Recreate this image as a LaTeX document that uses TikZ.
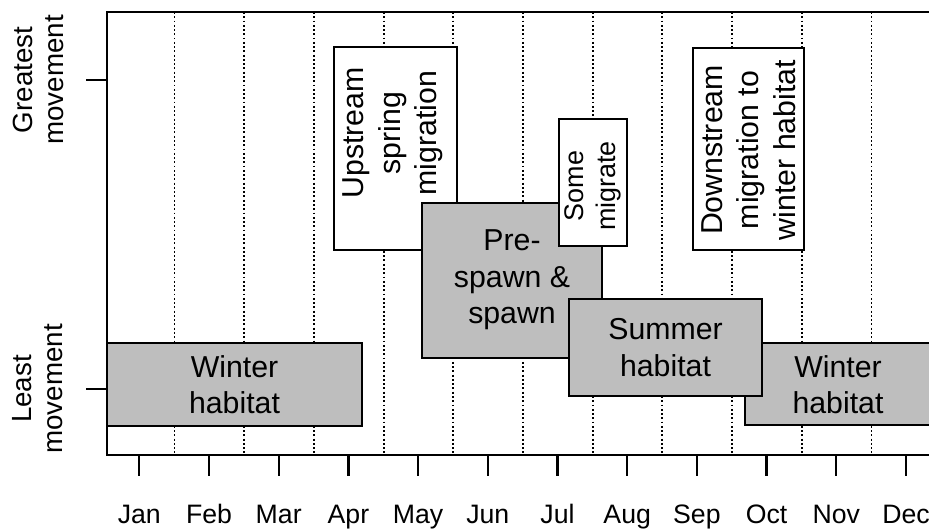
\documentclass[tikz,border=0pt]{standalone}
\usepackage{fontspec}
\setmainfont{Liberation Sans}
\definecolor{boxgray}{HTML}{BEBEBE}

\tikzstyle{every node}=[inner sep=0pt, align=center]
\tikzstyle{frame}=[line width=2.2pt]
\tikzstyle{tick}=[line width=1.7pt]
\tikzstyle{grid line}=[line width=1.4pt, dash pattern=on 1.4pt off 1.8pt]
\tikzstyle{graybox}=[line width=2.2pt, fill=boxgray]
\tikzstyle{whitebox}=[line width=2.2pt, fill=white]
\tikzstyle{boxtext}=[font=\fontsize{22.7}{27.3}\selectfont]
\tikzstyle{smalltext}=[font=\fontsize{20.2}{24.5}\selectfont]
\tikzstyle{monthlabel}=[font=\fontsize{20}{24}\selectfont, anchor=base]
\tikzstyle{axislabel}=[font=\fontsize{20.8}{23.3}\selectfont, rotate=90]

\begin{document}
\begin{tikzpicture}[x=0.75pt, y=-0.75pt]
  \useasboundingbox (0,0) rectangle (929,531);
  \clip (0,0) rectangle (929,531);

  % dotted month boundaries
  \foreach \i in {0,...,11}
    \draw[grid line] ({174.5+69.7*\i},12) -- ({174.5+69.7*\i},455);

  % activity boxes
  \draw[graybox] (107,343) rectangle (362,426);
  \node[boxtext] (winterL) at (234.5,384.5) {Winter\\habitat};

  \draw[whitebox] (334,47) rectangle (457,250);
  \node[boxtext, rotate=90] (upstream) at (393,133) {Upstream\\spring\\migration};

  \draw[graybox] (422,203) rectangle (602,358);
  \node[boxtext] (prespawn) at (512,280) {Pre-\\spawn \&\\spawn};

  \draw[whitebox] (559,119) rectangle (627,246);
  \node[smalltext, rotate=90] (somemig) at (593,186) {Some\\migrate};

  \draw[graybox] (745,343) rectangle (931,425);
  \node[boxtext] (winterR) at (838,384.5) {Winter\\habitat};

  \draw[graybox] (569,299) rectangle (762,396);
  \node[boxtext] (summer) at (665.5,347.5) {Summer\\habitat};

  \draw[whitebox] (693,48) rectangle (804,250);
  \node[boxtext, rotate=90] (downstream) at (748.5,150) {Downstream\\migration to\\winter habitat};

  % axes
  \draw[frame] (940,12) -- (107,12) -- (107,455) -- (940,455);
  \foreach \m [count=\i] in {Jan,Feb,Mar,Apr,May,Jun,Jul,Aug,Sep,Oct,Nov,Dec} {
    \draw[tick] ({69.6+69.7*\i},455) -- ({69.6+69.7*\i},476);
    \node[monthlabel] (m\i) at ({69.6+69.7*\i},523) {\m};
  }
  \draw[tick] (86,80) -- (107,80);
  \draw[tick] (86,389) -- (107,389);
  \node[axislabel] (greatest) at (38,80) {Greatest\\movement};
  \node[axislabel] (least) at (38,389) {Least\\movement};
\end{tikzpicture}
\end{document}
